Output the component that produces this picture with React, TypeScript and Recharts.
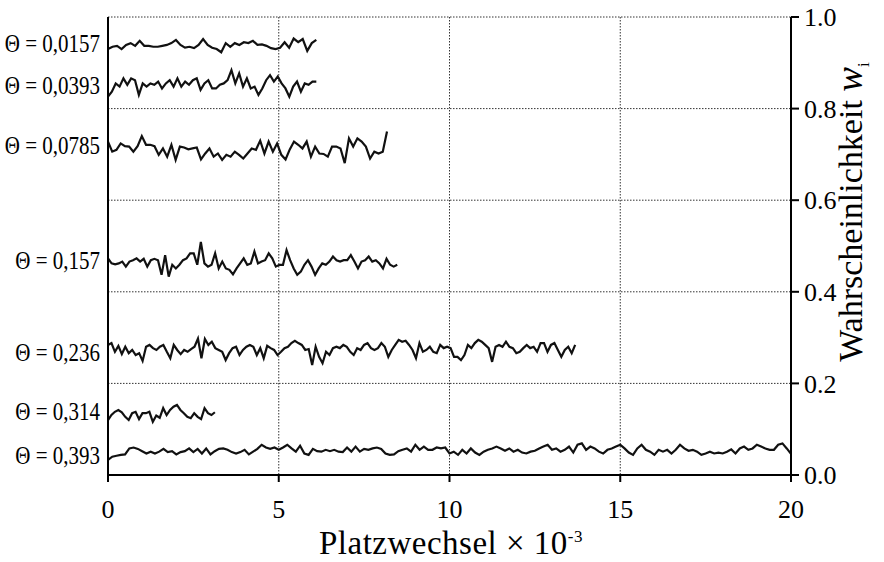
import { CartesianGrid, Line, LineChart, XAxis, YAxis } from "recharts";

// Wahrscheinlichkeit w_i über Platzwechsel, je Θ eine Kurve
const X_TICKS = [0, 5, 10, 15, 20];
const Y_TICKS = [0, 0.2, 0.4, 0.6, 0.8, 1.0];

const THETA_LABELS = ["Θ = 0,0157", "Θ = 0,0393", "Θ = 0,0785", "Θ = 0,157", "Θ = 0,236", "Θ = 0,314", "Θ = 0,393"];
const LABEL_Y = [45, 87, 147, 262, 354, 413, 457];

// end of each run in Platzwechsel × 10^-3
const X_END = [6.1, 6.1, 8.17, 8.47, 13.68, 3.13, 20];

const W_0157 = [
  0.930, 0.935, 0.937, 0.930, 0.939, 0.943, 0.937, 0.948, 0.937, 0.937,
  0.935, 0.935, 0.937, 0.939, 0.943, 0.950, 0.939, 0.933, 0.935, 0.932,
  0.939, 0.952, 0.939, 0.933, 0.930, 0.923, 0.943, 0.935, 0.943, 0.939,
  0.945, 0.943, 0.948, 0.939, 0.940, 0.937, 0.932, 0.930, 0.933, 0.945,
  0.933, 0.953, 0.945, 0.952, 0.926, 0.943, 0.950,
];

const W_0393 = [
  0.826, 0.837, 0.855, 0.848, 0.866, 0.852, 0.866, 0.862, 0.830, 0.855,
  0.848, 0.855, 0.852, 0.859, 0.844, 0.855, 0.862, 0.848, 0.866, 0.848,
  0.859, 0.852, 0.862, 0.866, 0.841, 0.855, 0.862, 0.844, 0.844, 0.852,
  0.855, 0.862, 0.884, 0.855, 0.877, 0.848, 0.866, 0.844, 0.848, 0.830,
  0.844, 0.862, 0.873, 0.859, 0.870, 0.855, 0.844, 0.826, 0.848, 0.859,
  0.837, 0.855, 0.852, 0.859, 0.859,
];

const W_0785 = [
  0.728, 0.706, 0.710, 0.724, 0.718, 0.717, 0.706, 0.718, 0.740, 0.721,
  0.721, 0.718, 0.699, 0.713, 0.695, 0.721, 0.688, 0.717, 0.715, 0.711,
  0.713, 0.715, 0.689, 0.702, 0.713, 0.695, 0.702, 0.688, 0.699, 0.695,
  0.706, 0.699, 0.691, 0.702, 0.713, 0.710, 0.730, 0.702, 0.728, 0.706,
  0.724, 0.699, 0.689, 0.711, 0.728, 0.721, 0.713, 0.728, 0.695, 0.717,
  0.702, 0.701, 0.695, 0.717, 0.717, 0.713, 0.681, 0.735, 0.717, 0.735,
  0.728, 0.717, 0.691, 0.706, 0.702, 0.706, 0.750,
];

const W_157 = [
  0.473, 0.462, 0.460, 0.462, 0.466, 0.455, 0.466, 0.469, 0.473, 0.466,
  0.472, 0.455, 0.469, 0.472, 0.469, 0.437, 0.480, 0.433, 0.459, 0.451,
  0.459, 0.469, 0.473, 0.484, 0.484, 0.459, 0.509, 0.462, 0.455, 0.459,
  0.484, 0.451, 0.466, 0.451, 0.448, 0.438, 0.451, 0.462, 0.473, 0.459,
  0.462, 0.488, 0.462, 0.466, 0.469, 0.484, 0.473, 0.455, 0.459, 0.459,
  0.491, 0.469, 0.451, 0.437, 0.444, 0.459, 0.469, 0.455, 0.437, 0.451,
  0.462, 0.459, 0.466, 0.477, 0.469, 0.466, 0.469, 0.469, 0.480, 0.466,
  0.451, 0.466, 0.469, 0.477, 0.466, 0.469, 0.462, 0.451, 0.472, 0.459,
  0.455, 0.459,
];

const W_236 = [
  0.284, 0.288, 0.269, 0.282, 0.264, 0.280, 0.266, 0.273, 0.262, 0.266,
  0.249, 0.280, 0.284, 0.277, 0.273, 0.280, 0.284, 0.269, 0.255, 0.284,
  0.273, 0.264, 0.273, 0.269, 0.275, 0.280, 0.298, 0.255, 0.297, 0.284,
  0.291, 0.277, 0.273, 0.269, 0.251, 0.266, 0.277, 0.280, 0.262, 0.273,
  0.280, 0.284, 0.280, 0.262, 0.277, 0.255, 0.282, 0.277, 0.273, 0.262,
  0.269, 0.277, 0.280, 0.288, 0.293, 0.288, 0.284, 0.273, 0.275, 0.240,
  0.280, 0.258, 0.244, 0.269, 0.262, 0.277, 0.280, 0.277, 0.284, 0.280,
  0.269, 0.262, 0.277, 0.273, 0.284, 0.288, 0.277, 0.273, 0.277, 0.288,
  0.280, 0.258, 0.273, 0.284, 0.295, 0.291, 0.293, 0.284, 0.273, 0.255,
  0.288, 0.269, 0.273, 0.280, 0.269, 0.266, 0.284, 0.277, 0.280, 0.277,
  0.258, 0.258, 0.251, 0.262, 0.284, 0.277, 0.288, 0.295, 0.291, 0.284,
  0.277, 0.247, 0.280, 0.284, 0.280, 0.291, 0.280, 0.277, 0.266, 0.269,
  0.277, 0.284, 0.277, 0.280, 0.269, 0.288, 0.288, 0.269, 0.284, 0.288,
  0.273, 0.258, 0.273, 0.280, 0.266, 0.284,
];

const W_314 = [
  0.120, 0.131, 0.138, 0.142, 0.137, 0.127, 0.120, 0.135, 0.138, 0.122,
  0.135, 0.135, 0.138, 0.116, 0.130, 0.125, 0.146, 0.131, 0.142, 0.149,
  0.153, 0.142, 0.135, 0.127, 0.124, 0.135, 0.127, 0.122, 0.146, 0.135,
  0.131, 0.137,
];

const W_393 = [
  0.033, 0.040, 0.042, 0.044, 0.045, 0.058, 0.060, 0.057, 0.052, 0.047,
  0.051, 0.047, 0.051, 0.057, 0.050, 0.052, 0.045, 0.050, 0.052, 0.058,
  0.050, 0.057, 0.047, 0.058, 0.045, 0.052, 0.057, 0.058, 0.055, 0.050,
  0.047, 0.050, 0.055, 0.045, 0.051, 0.057, 0.066, 0.060, 0.057, 0.060,
  0.055, 0.060, 0.066, 0.058, 0.051, 0.064, 0.047, 0.044, 0.057, 0.052,
  0.051, 0.055, 0.052, 0.055, 0.051, 0.050, 0.060, 0.051, 0.062, 0.051,
  0.057, 0.055, 0.058, 0.060, 0.057, 0.047, 0.044, 0.045, 0.052, 0.055,
  0.058, 0.051, 0.066, 0.055, 0.062, 0.055, 0.055, 0.060, 0.058, 0.060,
  0.047, 0.051, 0.044, 0.055, 0.047, 0.058, 0.049, 0.044, 0.051, 0.055,
  0.058, 0.062, 0.058, 0.053, 0.058, 0.051, 0.055, 0.049, 0.047, 0.051,
  0.053, 0.058, 0.062, 0.066, 0.055, 0.058, 0.051, 0.055, 0.062, 0.049,
  0.066, 0.069, 0.055, 0.062, 0.058, 0.051, 0.047, 0.055, 0.058, 0.062,
  0.066, 0.058, 0.049, 0.044, 0.058, 0.066, 0.055, 0.051, 0.044, 0.055,
  0.051, 0.055, 0.047, 0.055, 0.066, 0.058, 0.053, 0.055, 0.051, 0.044,
  0.047, 0.051, 0.047, 0.049, 0.047, 0.051, 0.056, 0.047, 0.058, 0.062,
  0.055, 0.058, 0.066, 0.062, 0.058, 0.055, 0.055, 0.066, 0.069, 0.058,
  0.046,
];

const SERIES = [W_0157, W_0393, W_0785, W_157, W_236, W_314, W_393];

const toPoints = (vals: number[], xEnd: number) => vals.map((y, i) => ({ x: (xEnd * i) / (vals.length - 1), y }));

const FONT = "'Liberation Serif', 'DejaVu Serif', serif";

function XTick({ x, y, payload }: { x: number; y: number; payload: { value: number } }) {
  return (
    <text x={x} y={y} dy="0.72em" textAnchor="middle" fontSize={26} fontFamily={FONT} fill="#000">
      {payload.value}
    </text>
  );
}

function RightTick({ x, y, payload }: { x: number; y: number; payload: { value: number } }) {
  return (
    <text x={x} y={y} dy="0.35em" textAnchor="start" fontSize={26} fontFamily={FONT} fill="#000">
      {payload.value.toFixed(1)}
    </text>
  );
}

export default function App() {
  return (
    <div style={{ position: "absolute", left: 0, top: 0, width: 884, height: 562, background: "#fff", fontFamily: FONT, color: "#000", overflow: "hidden" }}>
      <LineChart width={884} height={562} margin={{ top: 17, right: 33, left: 100, bottom: 37 }} style={{ fontFamily: FONT }}>
        <CartesianGrid yAxisId="right" stroke="#333" strokeDasharray="1.5 1.5" strokeWidth={1} />
        <XAxis
          dataKey="x"
          type="number"
          domain={[0, 20]}
          ticks={X_TICKS}
          allowDuplicatedCategory={false}
          tick={XTick}
          tickSize={7}
          tickMargin={17}
          stroke="#000"
          strokeWidth={2}
          height={50}
        />
        <YAxis yAxisId="left" orientation="left" type="number" domain={[0, 1]} ticks={Y_TICKS} tick={false} tickSize={8} width={8} stroke="#000" strokeWidth={2} />
        <YAxis
          yAxisId="right"
          orientation="right"
          type="number"
          domain={[0, 1]}
          ticks={Y_TICKS}
          tick={RightTick}
          tickSize={8}
          tickMargin={5}
          width={60}
          stroke="#000"
          strokeWidth={2}
        />
        <XAxis xAxisId="top" orientation="top" type="number" domain={[0, 20]} tick={false} tickLine={false} stroke="#000" strokeWidth={2} height={0} />
        {SERIES.map((vals, i) => (
          <Line
            key={i}
            yAxisId="right"
            data={toPoints(vals, X_END[i])}
            dataKey="y"
            type="linear"
            stroke="#111"
            strokeWidth={2.2}
            dot={false}
            isAnimationActive={false}
          />
        ))}
      </LineChart>
      {THETA_LABELS.map((t, i) => (
        <div
          key={t}
          style={{
            position: "absolute",
            right: 784,
            top: LABEL_Y[i],
            transform: "translateY(-50%) scaleY(1.15)",
            transformOrigin: "right center",
            fontSize: 21,
            lineHeight: 1,
            whiteSpace: "nowrap",
          }}
        >
          {t}
        </div>
      ))}
      <div style={{ position: "absolute", left: 18, width: 866, top: 527, height: 33, textAlign: "center", fontSize: 33, lineHeight: "33px", letterSpacing: 0.5, whiteSpace: "nowrap" }}>
        Platzwechsel × 10<sup style={{ fontSize: 17, lineHeight: 0 }}>-3</sup>
      </div>
      <div
        style={{
          position: "absolute",
          left: 849,
          top: 212,
          transform: "translate(-50%, -50%) rotate(-90deg)",
          fontSize: 34,
          lineHeight: 1,
          whiteSpace: "nowrap",
        }}
      >
        Wahrscheinlichkeit <i style={{ fontSize: 37 }}>w</i>
        <sub style={{ fontSize: 17, lineHeight: 0 }}>i</sub>
      </div>
    </div>
  );
}
